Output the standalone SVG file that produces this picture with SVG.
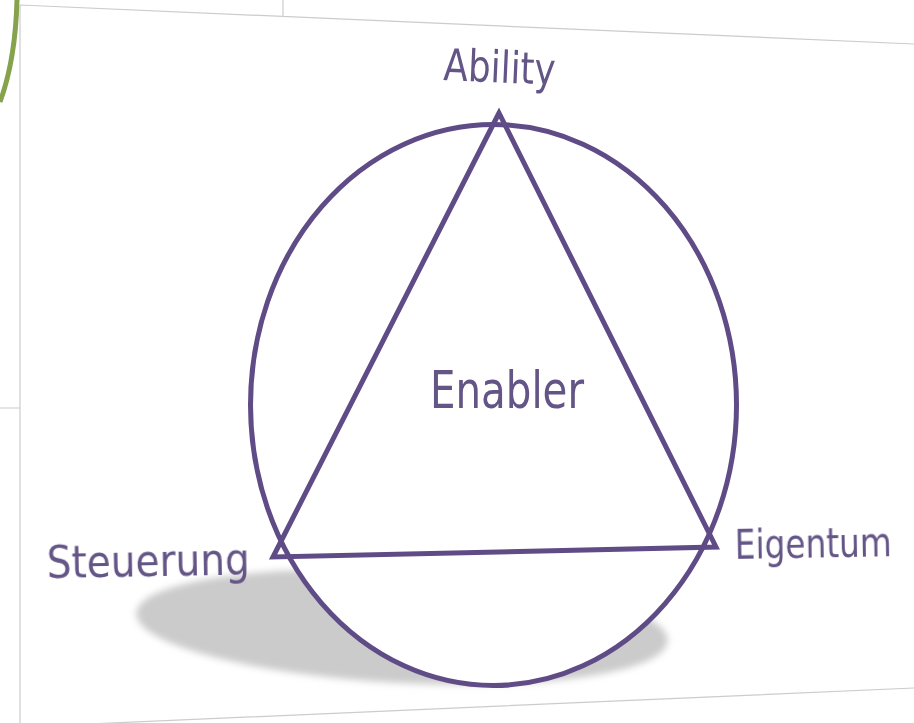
<svg xmlns="http://www.w3.org/2000/svg" width="914" height="723" viewBox="0 0 914 723">
<defs>
<filter id="soft" x="-10%" y="-30%" width="120%" height="160%"><feGaussianBlur stdDeviation="3.500"/></filter>
<filter id="aa" x="-5%" y="-20%" width="110%" height="140%"><feGaussianBlur stdDeviation="0.6"/></filter>
</defs>
<style>
.frame{fill:none;stroke:#cccccc;stroke-width:1.2}
.shape{stroke:#5f4b86;stroke-width:5;stroke-linejoin:miter}
text{font-family:"DejaVu Sans","Liberation Sans",sans-serif;fill:#645486}
</style>
<rect width="914" height="723" fill="#fff"/>
<g id="frame">
<path class="frame" d="M20 5L914 44M20 5V723M283 0V16M0 408H20M20 727L914 688"/>
<path d="M17 0C16 38 11 72 0 102" fill="none" stroke="#86a24c" stroke-width="5"/>
</g>
<g id="shadow"><ellipse cx="402" cy="627" rx="266" ry="56" transform="rotate(3 402 627)" fill="#cbcbcb" filter="url(#soft)"/></g>
<g id="circle"><ellipse class="shape" cx="493.5" cy="405" rx="243" ry="280.500" fill="#fff"/></g>
<g id="triangle"><path class="shape" d="M499 113L273 557L716 547Z" fill="none"/></g>
<g id="labels" filter="url(#aa)">
<text id="ability" transform="translate(443 80) rotate(2.500)" font-size="44" textLength="112" lengthAdjust="spacingAndGlyphs">Ability</text>
<text id="enabler" transform="translate(430 408)" font-size="51" textLength="154" lengthAdjust="spacingAndGlyphs">Enabler</text>
<text id="steuerung" transform="translate(47 578) rotate(-1)" font-size="45" textLength="203" lengthAdjust="spacingAndGlyphs">Steuerung</text>
<text id="eigentum" transform="translate(735 559) rotate(-1) scale(1 1.12)" font-size="36.500" textLength="157" lengthAdjust="spacingAndGlyphs">Eigentum</text>
</g>
</svg>
